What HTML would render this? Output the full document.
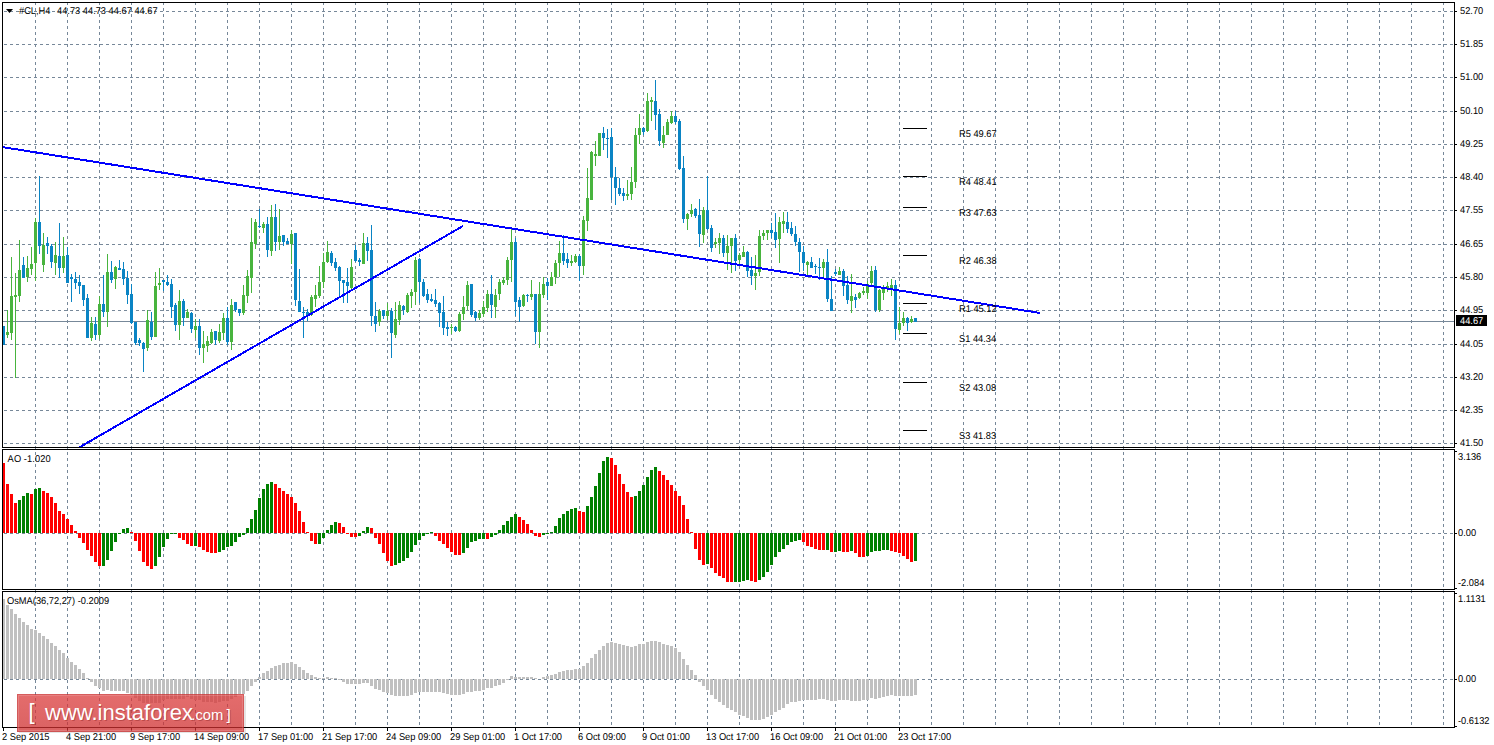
<!DOCTYPE html><html><head><meta charset="utf-8"><style>html,body{margin:0;padding:0;background:#fff;width:1494px;height:745px;overflow:hidden}svg{display:block}text{font-family:"Liberation Sans",sans-serif}</style></head><body>
<svg width="1494" height="745" viewBox="0 0 1494 745">
<rect width="1494" height="745" fill="#fff"/>
<g stroke="#778899" stroke-width="1" shape-rendering="crispEdges" stroke-dasharray="3 3">
<line x1="35.5" y1="2" x2="35.5" y2="727"/>
<line x1="67.5" y1="2" x2="67.5" y2="727"/>
<line x1="99.5" y1="2" x2="99.5" y2="727"/>
<line x1="131.5" y1="2" x2="131.5" y2="727"/>
<line x1="163.5" y1="2" x2="163.5" y2="727"/>
<line x1="195.5" y1="2" x2="195.5" y2="727"/>
<line x1="227.5" y1="2" x2="227.5" y2="727"/>
<line x1="259.5" y1="2" x2="259.5" y2="727"/>
<line x1="291.5" y1="2" x2="291.5" y2="727"/>
<line x1="323.5" y1="2" x2="323.5" y2="727"/>
<line x1="355.5" y1="2" x2="355.5" y2="727"/>
<line x1="387.5" y1="2" x2="387.5" y2="727"/>
<line x1="419.5" y1="2" x2="419.5" y2="727"/>
<line x1="451.5" y1="2" x2="451.5" y2="727"/>
<line x1="483.5" y1="2" x2="483.5" y2="727"/>
<line x1="515.5" y1="2" x2="515.5" y2="727"/>
<line x1="547.5" y1="2" x2="547.5" y2="727"/>
<line x1="579.5" y1="2" x2="579.5" y2="727"/>
<line x1="611.5" y1="2" x2="611.5" y2="727"/>
<line x1="643.5" y1="2" x2="643.5" y2="727"/>
<line x1="675.5" y1="2" x2="675.5" y2="727"/>
<line x1="707.5" y1="2" x2="707.5" y2="727"/>
<line x1="739.5" y1="2" x2="739.5" y2="727"/>
<line x1="771.5" y1="2" x2="771.5" y2="727"/>
<line x1="803.5" y1="2" x2="803.5" y2="727"/>
<line x1="835.5" y1="2" x2="835.5" y2="727"/>
<line x1="867.5" y1="2" x2="867.5" y2="727"/>
<line x1="899.5" y1="2" x2="899.5" y2="727"/>
<line x1="931.5" y1="2" x2="931.5" y2="727"/>
<line x1="963.5" y1="2" x2="963.5" y2="727"/>
<line x1="995.5" y1="2" x2="995.5" y2="727"/>
<line x1="1027.5" y1="2" x2="1027.5" y2="727"/>
<line x1="1059.5" y1="2" x2="1059.5" y2="727"/>
<line x1="1091.5" y1="2" x2="1091.5" y2="727"/>
<line x1="1123.5" y1="2" x2="1123.5" y2="727"/>
<line x1="1155.5" y1="2" x2="1155.5" y2="727"/>
<line x1="1187.5" y1="2" x2="1187.5" y2="727"/>
<line x1="1219.5" y1="2" x2="1219.5" y2="727"/>
<line x1="1251.5" y1="2" x2="1251.5" y2="727"/>
<line x1="1283.5" y1="2" x2="1283.5" y2="727"/>
<line x1="1315.5" y1="2" x2="1315.5" y2="727"/>
<line x1="1347.5" y1="2" x2="1347.5" y2="727"/>
<line x1="1379.5" y1="2" x2="1379.5" y2="727"/>
<line x1="1411.5" y1="2" x2="1411.5" y2="727"/>
<line x1="1443.5" y1="2" x2="1443.5" y2="727"/>
<line x1="4" y1="11.5" x2="1454" y2="11.5"/>
<line x1="4" y1="44.5" x2="1454" y2="44.5"/>
<line x1="4" y1="77.5" x2="1454" y2="77.5"/>
<line x1="4" y1="111.5" x2="1454" y2="111.5"/>
<line x1="4" y1="144.5" x2="1454" y2="144.5"/>
<line x1="4" y1="177.5" x2="1454" y2="177.5"/>
<line x1="4" y1="210.5" x2="1454" y2="210.5"/>
<line x1="4" y1="244.5" x2="1454" y2="244.5"/>
<line x1="4" y1="277.5" x2="1454" y2="277.5"/>
<line x1="4" y1="310.5" x2="1454" y2="310.5"/>
<line x1="4" y1="344.5" x2="1454" y2="344.5"/>
<line x1="4" y1="377.5" x2="1454" y2="377.5"/>
<line x1="4" y1="410.5" x2="1454" y2="410.5"/>
<line x1="4" y1="443.5" x2="1454" y2="443.5"/>
<line x1="4" y1="533.5" x2="1454" y2="533.5"/>
<line x1="4" y1="679.5" x2="1454" y2="679.5"/>
</g>
<rect x="3" y="321" width="1451" height="1" fill="#778899"/>
<g shape-rendering="crispEdges">
<rect x="3" y="326" width="1" height="19" fill="#0a84c4"/>
<rect x="3" y="326" width="2" height="19" fill="#0a84c4"/>
<rect x="7" y="310" width="1" height="28" fill="#48b43e"/>
<rect x="6" y="332" width="3" height="3" fill="#48b43e"/>
<rect x="11" y="257" width="1" height="83" fill="#48b43e"/>
<rect x="10" y="296" width="3" height="37" fill="#48b43e"/>
<rect x="15" y="273" width="1" height="105" fill="#48b43e"/>
<rect x="14" y="295" width="3" height="2" fill="#48b43e"/>
<rect x="19" y="240" width="1" height="62" fill="#48b43e"/>
<rect x="18" y="270" width="3" height="26" fill="#48b43e"/>
<rect x="23" y="257" width="1" height="21" fill="#0a84c4"/>
<rect x="22" y="265" width="3" height="13" fill="#0a84c4"/>
<rect x="27" y="256" width="1" height="26" fill="#48b43e"/>
<rect x="26" y="268" width="3" height="9" fill="#48b43e"/>
<rect x="31" y="247" width="1" height="28" fill="#48b43e"/>
<rect x="30" y="264" width="3" height="5" fill="#48b43e"/>
<rect x="35" y="218" width="1" height="63" fill="#48b43e"/>
<rect x="34" y="222" width="3" height="41" fill="#48b43e"/>
<rect x="39" y="176" width="1" height="78" fill="#0a84c4"/>
<rect x="38" y="222" width="3" height="24" fill="#0a84c4"/>
<rect x="43" y="233" width="1" height="39" fill="#48b43e"/>
<rect x="42" y="245" width="3" height="20" fill="#48b43e"/>
<rect x="47" y="237" width="1" height="17" fill="#0a84c4"/>
<rect x="46" y="243" width="3" height="3" fill="#0a84c4"/>
<rect x="51" y="244" width="1" height="24" fill="#0a84c4"/>
<rect x="50" y="246" width="3" height="16" fill="#0a84c4"/>
<rect x="55" y="242" width="1" height="33" fill="#48b43e"/>
<rect x="54" y="255" width="3" height="8" fill="#48b43e"/>
<rect x="59" y="223" width="1" height="55" fill="#0a84c4"/>
<rect x="58" y="256" width="3" height="12" fill="#0a84c4"/>
<rect x="63" y="237" width="1" height="36" fill="#48b43e"/>
<rect x="62" y="256" width="3" height="12" fill="#48b43e"/>
<rect x="67" y="247" width="1" height="36" fill="#0a84c4"/>
<rect x="66" y="255" width="3" height="28" fill="#0a84c4"/>
<rect x="71" y="274" width="1" height="28" fill="#0a84c4"/>
<rect x="70" y="277" width="3" height="2" fill="#0a84c4"/>
<rect x="75" y="272" width="1" height="17" fill="#0a84c4"/>
<rect x="74" y="279" width="3" height="4" fill="#0a84c4"/>
<rect x="79" y="275" width="1" height="19" fill="#0a84c4"/>
<rect x="78" y="282" width="3" height="4" fill="#0a84c4"/>
<rect x="83" y="285" width="1" height="21" fill="#0a84c4"/>
<rect x="82" y="285" width="3" height="15" fill="#0a84c4"/>
<rect x="87" y="294" width="1" height="44" fill="#0a84c4"/>
<rect x="86" y="298" width="3" height="40" fill="#0a84c4"/>
<rect x="91" y="317" width="1" height="24" fill="#48b43e"/>
<rect x="90" y="323" width="3" height="15" fill="#48b43e"/>
<rect x="95" y="317" width="1" height="23" fill="#0a84c4"/>
<rect x="94" y="324" width="3" height="11" fill="#0a84c4"/>
<rect x="99" y="296" width="1" height="43" fill="#48b43e"/>
<rect x="98" y="304" width="3" height="31" fill="#48b43e"/>
<rect x="103" y="275" width="1" height="42" fill="#0a84c4"/>
<rect x="102" y="304" width="3" height="8" fill="#0a84c4"/>
<rect x="107" y="254" width="1" height="73" fill="#48b43e"/>
<rect x="106" y="272" width="3" height="40" fill="#48b43e"/>
<rect x="111" y="261" width="1" height="22" fill="#0a84c4"/>
<rect x="110" y="272" width="3" height="8" fill="#0a84c4"/>
<rect x="115" y="266" width="1" height="23" fill="#48b43e"/>
<rect x="114" y="267" width="3" height="12" fill="#48b43e"/>
<rect x="119" y="260" width="1" height="10" fill="#0a84c4"/>
<rect x="118" y="268" width="3" height="2" fill="#0a84c4"/>
<rect x="123" y="262" width="1" height="23" fill="#0a84c4"/>
<rect x="122" y="269" width="3" height="10" fill="#0a84c4"/>
<rect x="127" y="271" width="1" height="33" fill="#0a84c4"/>
<rect x="126" y="278" width="3" height="17" fill="#0a84c4"/>
<rect x="131" y="284" width="1" height="40" fill="#0a84c4"/>
<rect x="130" y="294" width="3" height="29" fill="#0a84c4"/>
<rect x="135" y="322" width="1" height="23" fill="#0a84c4"/>
<rect x="134" y="322" width="3" height="21" fill="#0a84c4"/>
<rect x="139" y="338" width="1" height="8" fill="#0a84c4"/>
<rect x="138" y="340" width="3" height="3" fill="#0a84c4"/>
<rect x="143" y="342" width="1" height="30" fill="#0a84c4"/>
<rect x="142" y="343" width="3" height="6" fill="#0a84c4"/>
<rect x="147" y="310" width="1" height="41" fill="#48b43e"/>
<rect x="146" y="320" width="3" height="28" fill="#48b43e"/>
<rect x="151" y="312" width="1" height="28" fill="#0a84c4"/>
<rect x="150" y="322" width="3" height="15" fill="#0a84c4"/>
<rect x="155" y="272" width="1" height="65" fill="#48b43e"/>
<rect x="154" y="286" width="3" height="51" fill="#48b43e"/>
<rect x="159" y="268" width="1" height="22" fill="#48b43e"/>
<rect x="158" y="283" width="3" height="2" fill="#48b43e"/>
<rect x="163" y="280" width="1" height="11" fill="#0a84c4"/>
<rect x="162" y="280" width="3" height="2" fill="#0a84c4"/>
<rect x="167" y="275" width="1" height="11" fill="#0a84c4"/>
<rect x="166" y="282" width="3" height="3" fill="#0a84c4"/>
<rect x="171" y="279" width="1" height="39" fill="#0a84c4"/>
<rect x="170" y="284" width="3" height="23" fill="#0a84c4"/>
<rect x="175" y="303" width="1" height="28" fill="#0a84c4"/>
<rect x="174" y="305" width="3" height="20" fill="#0a84c4"/>
<rect x="179" y="290" width="1" height="50" fill="#48b43e"/>
<rect x="178" y="301" width="3" height="24" fill="#48b43e"/>
<rect x="183" y="299" width="1" height="27" fill="#0a84c4"/>
<rect x="182" y="301" width="3" height="17" fill="#0a84c4"/>
<rect x="187" y="309" width="1" height="9" fill="#48b43e"/>
<rect x="186" y="312" width="3" height="6" fill="#48b43e"/>
<rect x="191" y="312" width="1" height="21" fill="#0a84c4"/>
<rect x="190" y="313" width="3" height="16" fill="#0a84c4"/>
<rect x="195" y="319" width="1" height="19" fill="#48b43e"/>
<rect x="194" y="326" width="3" height="4" fill="#48b43e"/>
<rect x="199" y="319" width="1" height="36" fill="#0a84c4"/>
<rect x="198" y="326" width="3" height="22" fill="#0a84c4"/>
<rect x="203" y="331" width="1" height="32" fill="#48b43e"/>
<rect x="202" y="344" width="3" height="4" fill="#48b43e"/>
<rect x="207" y="336" width="1" height="16" fill="#48b43e"/>
<rect x="206" y="341" width="3" height="5" fill="#48b43e"/>
<rect x="211" y="329" width="1" height="15" fill="#48b43e"/>
<rect x="210" y="332" width="3" height="11" fill="#48b43e"/>
<rect x="215" y="331" width="1" height="14" fill="#0a84c4"/>
<rect x="214" y="331" width="3" height="9" fill="#0a84c4"/>
<rect x="219" y="324" width="1" height="19" fill="#48b43e"/>
<rect x="218" y="332" width="3" height="9" fill="#48b43e"/>
<rect x="223" y="313" width="1" height="27" fill="#48b43e"/>
<rect x="222" y="318" width="3" height="15" fill="#48b43e"/>
<rect x="227" y="307" width="1" height="38" fill="#0a84c4"/>
<rect x="226" y="318" width="3" height="24" fill="#0a84c4"/>
<rect x="231" y="299" width="1" height="51" fill="#48b43e"/>
<rect x="230" y="305" width="3" height="37" fill="#48b43e"/>
<rect x="235" y="302" width="1" height="10" fill="#0a84c4"/>
<rect x="234" y="302" width="3" height="8" fill="#0a84c4"/>
<rect x="239" y="309" width="1" height="7" fill="#0a84c4"/>
<rect x="238" y="309" width="3" height="4" fill="#0a84c4"/>
<rect x="243" y="285" width="1" height="30" fill="#48b43e"/>
<rect x="242" y="295" width="3" height="18" fill="#48b43e"/>
<rect x="247" y="270" width="1" height="33" fill="#48b43e"/>
<rect x="246" y="276" width="3" height="20" fill="#48b43e"/>
<rect x="251" y="218" width="1" height="75" fill="#48b43e"/>
<rect x="250" y="242" width="3" height="36" fill="#48b43e"/>
<rect x="255" y="219" width="1" height="30" fill="#48b43e"/>
<rect x="254" y="222" width="3" height="22" fill="#48b43e"/>
<rect x="259" y="209" width="1" height="19" fill="#0a84c4"/>
<rect x="258" y="226" width="3" height="1" fill="#0a84c4"/>
<rect x="263" y="222" width="1" height="11" fill="#48b43e"/>
<rect x="262" y="224" width="3" height="4" fill="#48b43e"/>
<rect x="267" y="217" width="1" height="40" fill="#0a84c4"/>
<rect x="266" y="224" width="3" height="26" fill="#0a84c4"/>
<rect x="271" y="205" width="1" height="51" fill="#48b43e"/>
<rect x="270" y="217" width="3" height="34" fill="#48b43e"/>
<rect x="275" y="204" width="1" height="47" fill="#0a84c4"/>
<rect x="274" y="217" width="3" height="25" fill="#0a84c4"/>
<rect x="279" y="209" width="1" height="41" fill="#48b43e"/>
<rect x="278" y="236" width="3" height="6" fill="#48b43e"/>
<rect x="283" y="235" width="1" height="11" fill="#0a84c4"/>
<rect x="282" y="235" width="3" height="7" fill="#0a84c4"/>
<rect x="287" y="238" width="1" height="6" fill="#0a84c4"/>
<rect x="286" y="241" width="3" height="3" fill="#0a84c4"/>
<rect x="291" y="230" width="1" height="34" fill="#48b43e"/>
<rect x="290" y="234" width="3" height="10" fill="#48b43e"/>
<rect x="295" y="233" width="1" height="73" fill="#0a84c4"/>
<rect x="294" y="233" width="3" height="67" fill="#0a84c4"/>
<rect x="299" y="269" width="1" height="43" fill="#0a84c4"/>
<rect x="298" y="301" width="3" height="11" fill="#0a84c4"/>
<rect x="303" y="307" width="1" height="31" fill="#0a84c4"/>
<rect x="302" y="312" width="3" height="1" fill="#0a84c4"/>
<rect x="307" y="309" width="1" height="12" fill="#0a84c4"/>
<rect x="306" y="312" width="3" height="3" fill="#0a84c4"/>
<rect x="311" y="295" width="1" height="21" fill="#48b43e"/>
<rect x="310" y="297" width="3" height="18" fill="#48b43e"/>
<rect x="315" y="285" width="1" height="22" fill="#48b43e"/>
<rect x="314" y="295" width="3" height="4" fill="#48b43e"/>
<rect x="319" y="266" width="1" height="32" fill="#48b43e"/>
<rect x="318" y="282" width="3" height="14" fill="#48b43e"/>
<rect x="323" y="253" width="1" height="35" fill="#48b43e"/>
<rect x="322" y="262" width="3" height="20" fill="#48b43e"/>
<rect x="327" y="241" width="1" height="22" fill="#48b43e"/>
<rect x="326" y="252" width="3" height="10" fill="#48b43e"/>
<rect x="331" y="251" width="1" height="15" fill="#0a84c4"/>
<rect x="330" y="253" width="3" height="10" fill="#0a84c4"/>
<rect x="335" y="258" width="1" height="13" fill="#0a84c4"/>
<rect x="334" y="262" width="3" height="6" fill="#0a84c4"/>
<rect x="339" y="266" width="1" height="30" fill="#0a84c4"/>
<rect x="338" y="267" width="3" height="14" fill="#0a84c4"/>
<rect x="343" y="280" width="1" height="23" fill="#0a84c4"/>
<rect x="342" y="280" width="3" height="3" fill="#0a84c4"/>
<rect x="347" y="268" width="1" height="35" fill="#0a84c4"/>
<rect x="346" y="282" width="3" height="4" fill="#0a84c4"/>
<rect x="351" y="259" width="1" height="30" fill="#48b43e"/>
<rect x="350" y="267" width="3" height="21" fill="#48b43e"/>
<rect x="355" y="245" width="1" height="17" fill="#0a84c4"/>
<rect x="354" y="250" width="3" height="11" fill="#0a84c4"/>
<rect x="359" y="258" width="1" height="8" fill="#0a84c4"/>
<rect x="358" y="260" width="3" height="2" fill="#0a84c4"/>
<rect x="363" y="233" width="1" height="31" fill="#48b43e"/>
<rect x="362" y="243" width="3" height="21" fill="#48b43e"/>
<rect x="367" y="237" width="1" height="24" fill="#0a84c4"/>
<rect x="366" y="243" width="3" height="8" fill="#0a84c4"/>
<rect x="371" y="225" width="1" height="101" fill="#0a84c4"/>
<rect x="370" y="250" width="3" height="66" fill="#0a84c4"/>
<rect x="375" y="302" width="1" height="30" fill="#0a84c4"/>
<rect x="374" y="316" width="3" height="8" fill="#0a84c4"/>
<rect x="379" y="309" width="1" height="17" fill="#48b43e"/>
<rect x="378" y="311" width="3" height="11" fill="#48b43e"/>
<rect x="383" y="310" width="1" height="9" fill="#0a84c4"/>
<rect x="382" y="310" width="3" height="6" fill="#0a84c4"/>
<rect x="387" y="303" width="1" height="17" fill="#48b43e"/>
<rect x="386" y="311" width="3" height="5" fill="#48b43e"/>
<rect x="391" y="308" width="1" height="50" fill="#0a84c4"/>
<rect x="390" y="311" width="3" height="22" fill="#0a84c4"/>
<rect x="395" y="302" width="1" height="36" fill="#48b43e"/>
<rect x="394" y="319" width="3" height="16" fill="#48b43e"/>
<rect x="399" y="301" width="1" height="24" fill="#48b43e"/>
<rect x="398" y="305" width="3" height="15" fill="#48b43e"/>
<rect x="403" y="305" width="1" height="10" fill="#0a84c4"/>
<rect x="402" y="306" width="3" height="4" fill="#0a84c4"/>
<rect x="407" y="293" width="1" height="20" fill="#48b43e"/>
<rect x="406" y="295" width="3" height="17" fill="#48b43e"/>
<rect x="411" y="289" width="1" height="19" fill="#48b43e"/>
<rect x="410" y="292" width="3" height="4" fill="#48b43e"/>
<rect x="415" y="257" width="1" height="48" fill="#48b43e"/>
<rect x="414" y="260" width="3" height="32" fill="#48b43e"/>
<rect x="419" y="258" width="1" height="45" fill="#0a84c4"/>
<rect x="418" y="259" width="3" height="23" fill="#0a84c4"/>
<rect x="423" y="279" width="1" height="18" fill="#0a84c4"/>
<rect x="422" y="282" width="3" height="14" fill="#0a84c4"/>
<rect x="427" y="289" width="1" height="14" fill="#0a84c4"/>
<rect x="426" y="294" width="3" height="6" fill="#0a84c4"/>
<rect x="431" y="294" width="1" height="8" fill="#0a84c4"/>
<rect x="430" y="299" width="3" height="2" fill="#0a84c4"/>
<rect x="435" y="289" width="1" height="18" fill="#0a84c4"/>
<rect x="434" y="300" width="3" height="4" fill="#0a84c4"/>
<rect x="439" y="302" width="1" height="25" fill="#0a84c4"/>
<rect x="438" y="303" width="3" height="10" fill="#0a84c4"/>
<rect x="443" y="296" width="1" height="39" fill="#0a84c4"/>
<rect x="442" y="312" width="3" height="16" fill="#0a84c4"/>
<rect x="447" y="322" width="1" height="14" fill="#0a84c4"/>
<rect x="446" y="327" width="3" height="2" fill="#0a84c4"/>
<rect x="451" y="324" width="1" height="10" fill="#48b43e"/>
<rect x="450" y="327" width="3" height="1" fill="#48b43e"/>
<rect x="455" y="326" width="1" height="6" fill="#0a84c4"/>
<rect x="454" y="327" width="3" height="4" fill="#0a84c4"/>
<rect x="459" y="312" width="1" height="20" fill="#48b43e"/>
<rect x="458" y="314" width="3" height="17" fill="#48b43e"/>
<rect x="463" y="296" width="1" height="24" fill="#48b43e"/>
<rect x="462" y="307" width="3" height="7" fill="#48b43e"/>
<rect x="467" y="281" width="1" height="29" fill="#48b43e"/>
<rect x="466" y="285" width="3" height="21" fill="#48b43e"/>
<rect x="471" y="284" width="1" height="33" fill="#0a84c4"/>
<rect x="470" y="284" width="3" height="31" fill="#0a84c4"/>
<rect x="475" y="311" width="1" height="10" fill="#0a84c4"/>
<rect x="474" y="312" width="3" height="6" fill="#0a84c4"/>
<rect x="479" y="310" width="1" height="10" fill="#48b43e"/>
<rect x="478" y="313" width="3" height="5" fill="#48b43e"/>
<rect x="483" y="301" width="1" height="16" fill="#48b43e"/>
<rect x="482" y="307" width="3" height="7" fill="#48b43e"/>
<rect x="487" y="290" width="1" height="22" fill="#48b43e"/>
<rect x="486" y="294" width="3" height="14" fill="#48b43e"/>
<rect x="491" y="275" width="1" height="43" fill="#0a84c4"/>
<rect x="490" y="294" width="3" height="11" fill="#0a84c4"/>
<rect x="495" y="289" width="1" height="29" fill="#48b43e"/>
<rect x="494" y="295" width="3" height="12" fill="#48b43e"/>
<rect x="499" y="279" width="1" height="21" fill="#48b43e"/>
<rect x="498" y="282" width="3" height="12" fill="#48b43e"/>
<rect x="503" y="277" width="1" height="8" fill="#48b43e"/>
<rect x="502" y="280" width="3" height="3" fill="#48b43e"/>
<rect x="507" y="257" width="1" height="28" fill="#48b43e"/>
<rect x="506" y="260" width="3" height="20" fill="#48b43e"/>
<rect x="511" y="229" width="1" height="53" fill="#48b43e"/>
<rect x="510" y="242" width="3" height="18" fill="#48b43e"/>
<rect x="515" y="238" width="1" height="78" fill="#0a84c4"/>
<rect x="514" y="242" width="3" height="60" fill="#0a84c4"/>
<rect x="519" y="297" width="1" height="25" fill="#0a84c4"/>
<rect x="518" y="300" width="3" height="7" fill="#0a84c4"/>
<rect x="523" y="294" width="1" height="13" fill="#48b43e"/>
<rect x="522" y="295" width="3" height="11" fill="#48b43e"/>
<rect x="527" y="294" width="1" height="8" fill="#0a84c4"/>
<rect x="526" y="295" width="3" height="1" fill="#0a84c4"/>
<rect x="531" y="280" width="1" height="20" fill="#48b43e"/>
<rect x="530" y="294" width="3" height="3" fill="#48b43e"/>
<rect x="535" y="294" width="1" height="50" fill="#0a84c4"/>
<rect x="534" y="294" width="3" height="38" fill="#0a84c4"/>
<rect x="539" y="282" width="1" height="66" fill="#48b43e"/>
<rect x="538" y="294" width="3" height="38" fill="#48b43e"/>
<rect x="543" y="277" width="1" height="21" fill="#48b43e"/>
<rect x="542" y="284" width="3" height="11" fill="#48b43e"/>
<rect x="547" y="278" width="1" height="22" fill="#0a84c4"/>
<rect x="546" y="282" width="3" height="4" fill="#0a84c4"/>
<rect x="551" y="272" width="1" height="14" fill="#48b43e"/>
<rect x="550" y="277" width="3" height="9" fill="#48b43e"/>
<rect x="555" y="260" width="1" height="24" fill="#48b43e"/>
<rect x="554" y="263" width="3" height="14" fill="#48b43e"/>
<rect x="559" y="241" width="1" height="36" fill="#48b43e"/>
<rect x="558" y="253" width="3" height="10" fill="#48b43e"/>
<rect x="563" y="235" width="1" height="30" fill="#0a84c4"/>
<rect x="562" y="253" width="3" height="8" fill="#0a84c4"/>
<rect x="567" y="253" width="1" height="15" fill="#0a84c4"/>
<rect x="566" y="259" width="3" height="4" fill="#0a84c4"/>
<rect x="571" y="255" width="1" height="11" fill="#48b43e"/>
<rect x="570" y="261" width="3" height="2" fill="#48b43e"/>
<rect x="575" y="254" width="1" height="9" fill="#48b43e"/>
<rect x="574" y="256" width="3" height="6" fill="#48b43e"/>
<rect x="579" y="254" width="1" height="27" fill="#0a84c4"/>
<rect x="578" y="256" width="3" height="10" fill="#0a84c4"/>
<rect x="583" y="216" width="1" height="59" fill="#48b43e"/>
<rect x="582" y="220" width="3" height="46" fill="#48b43e"/>
<rect x="587" y="168" width="1" height="63" fill="#48b43e"/>
<rect x="586" y="198" width="3" height="23" fill="#48b43e"/>
<rect x="591" y="151" width="1" height="49" fill="#48b43e"/>
<rect x="590" y="152" width="3" height="48" fill="#48b43e"/>
<rect x="595" y="141" width="1" height="25" fill="#48b43e"/>
<rect x="594" y="154" width="3" height="2" fill="#48b43e"/>
<rect x="599" y="133" width="1" height="23" fill="#48b43e"/>
<rect x="598" y="133" width="3" height="23" fill="#48b43e"/>
<rect x="603" y="127" width="1" height="23" fill="#0a84c4"/>
<rect x="602" y="133" width="3" height="5" fill="#0a84c4"/>
<rect x="607" y="129" width="1" height="29" fill="#0a84c4"/>
<rect x="606" y="138" width="3" height="1" fill="#0a84c4"/>
<rect x="611" y="128" width="1" height="72" fill="#0a84c4"/>
<rect x="610" y="137" width="3" height="40" fill="#0a84c4"/>
<rect x="615" y="167" width="1" height="38" fill="#0a84c4"/>
<rect x="614" y="177" width="3" height="11" fill="#0a84c4"/>
<rect x="619" y="178" width="1" height="18" fill="#0a84c4"/>
<rect x="618" y="188" width="3" height="6" fill="#0a84c4"/>
<rect x="623" y="188" width="1" height="13" fill="#0a84c4"/>
<rect x="622" y="193" width="3" height="3" fill="#0a84c4"/>
<rect x="627" y="180" width="1" height="20" fill="#48b43e"/>
<rect x="626" y="194" width="3" height="2" fill="#48b43e"/>
<rect x="631" y="167" width="1" height="33" fill="#48b43e"/>
<rect x="630" y="182" width="3" height="12" fill="#48b43e"/>
<rect x="635" y="128" width="1" height="60" fill="#48b43e"/>
<rect x="634" y="135" width="3" height="47" fill="#48b43e"/>
<rect x="639" y="114" width="1" height="30" fill="#48b43e"/>
<rect x="638" y="128" width="3" height="7" fill="#48b43e"/>
<rect x="643" y="127" width="1" height="8" fill="#0a84c4"/>
<rect x="642" y="128" width="3" height="4" fill="#0a84c4"/>
<rect x="647" y="93" width="1" height="39" fill="#48b43e"/>
<rect x="646" y="101" width="3" height="30" fill="#48b43e"/>
<rect x="651" y="97" width="1" height="24" fill="#48b43e"/>
<rect x="650" y="100" width="3" height="2" fill="#48b43e"/>
<rect x="655" y="80" width="1" height="50" fill="#0a84c4"/>
<rect x="654" y="101" width="3" height="14" fill="#0a84c4"/>
<rect x="659" y="109" width="1" height="37" fill="#0a84c4"/>
<rect x="658" y="114" width="3" height="27" fill="#0a84c4"/>
<rect x="663" y="126" width="1" height="22" fill="#48b43e"/>
<rect x="662" y="135" width="3" height="8" fill="#48b43e"/>
<rect x="667" y="119" width="1" height="16" fill="#48b43e"/>
<rect x="666" y="122" width="3" height="13" fill="#48b43e"/>
<rect x="671" y="111" width="1" height="13" fill="#48b43e"/>
<rect x="670" y="116" width="3" height="7" fill="#48b43e"/>
<rect x="675" y="111" width="1" height="13" fill="#0a84c4"/>
<rect x="674" y="116" width="3" height="6" fill="#0a84c4"/>
<rect x="679" y="119" width="1" height="51" fill="#0a84c4"/>
<rect x="678" y="121" width="3" height="48" fill="#0a84c4"/>
<rect x="683" y="156" width="1" height="67" fill="#0a84c4"/>
<rect x="682" y="168" width="3" height="51" fill="#0a84c4"/>
<rect x="687" y="213" width="1" height="17" fill="#48b43e"/>
<rect x="686" y="214" width="3" height="5" fill="#48b43e"/>
<rect x="691" y="204" width="1" height="13" fill="#48b43e"/>
<rect x="690" y="210" width="3" height="4" fill="#48b43e"/>
<rect x="695" y="208" width="1" height="10" fill="#0a84c4"/>
<rect x="694" y="209" width="3" height="7" fill="#0a84c4"/>
<rect x="699" y="199" width="1" height="48" fill="#0a84c4"/>
<rect x="698" y="215" width="3" height="19" fill="#0a84c4"/>
<rect x="703" y="207" width="1" height="36" fill="#48b43e"/>
<rect x="702" y="210" width="3" height="25" fill="#48b43e"/>
<rect x="707" y="176" width="1" height="54" fill="#0a84c4"/>
<rect x="706" y="210" width="3" height="19" fill="#0a84c4"/>
<rect x="711" y="225" width="1" height="27" fill="#0a84c4"/>
<rect x="710" y="228" width="3" height="20" fill="#0a84c4"/>
<rect x="715" y="238" width="1" height="10" fill="#48b43e"/>
<rect x="714" y="242" width="3" height="2" fill="#48b43e"/>
<rect x="719" y="233" width="1" height="21" fill="#48b43e"/>
<rect x="718" y="238" width="3" height="5" fill="#48b43e"/>
<rect x="723" y="235" width="1" height="22" fill="#0a84c4"/>
<rect x="722" y="238" width="3" height="15" fill="#0a84c4"/>
<rect x="727" y="235" width="1" height="35" fill="#48b43e"/>
<rect x="726" y="246" width="3" height="7" fill="#48b43e"/>
<rect x="731" y="238" width="1" height="35" fill="#48b43e"/>
<rect x="730" y="238" width="3" height="8" fill="#48b43e"/>
<rect x="735" y="234" width="1" height="37" fill="#0a84c4"/>
<rect x="734" y="238" width="3" height="23" fill="#0a84c4"/>
<rect x="739" y="253" width="1" height="11" fill="#48b43e"/>
<rect x="738" y="255" width="3" height="5" fill="#48b43e"/>
<rect x="743" y="246" width="1" height="11" fill="#48b43e"/>
<rect x="742" y="252" width="3" height="5" fill="#48b43e"/>
<rect x="747" y="251" width="1" height="26" fill="#0a84c4"/>
<rect x="746" y="252" width="3" height="19" fill="#0a84c4"/>
<rect x="751" y="257" width="1" height="28" fill="#0a84c4"/>
<rect x="750" y="270" width="3" height="6" fill="#0a84c4"/>
<rect x="755" y="255" width="1" height="35" fill="#48b43e"/>
<rect x="754" y="273" width="3" height="3" fill="#48b43e"/>
<rect x="759" y="230" width="1" height="46" fill="#48b43e"/>
<rect x="758" y="236" width="3" height="36" fill="#48b43e"/>
<rect x="763" y="230" width="1" height="10" fill="#48b43e"/>
<rect x="762" y="233" width="3" height="3" fill="#48b43e"/>
<rect x="767" y="230" width="1" height="10" fill="#48b43e"/>
<rect x="766" y="230" width="3" height="3" fill="#48b43e"/>
<rect x="771" y="223" width="1" height="15" fill="#0a84c4"/>
<rect x="770" y="230" width="3" height="3" fill="#0a84c4"/>
<rect x="775" y="213" width="1" height="35" fill="#0a84c4"/>
<rect x="774" y="232" width="3" height="8" fill="#0a84c4"/>
<rect x="779" y="217" width="1" height="46" fill="#48b43e"/>
<rect x="778" y="222" width="3" height="17" fill="#48b43e"/>
<rect x="783" y="212" width="1" height="21" fill="#48b43e"/>
<rect x="782" y="221" width="3" height="3" fill="#48b43e"/>
<rect x="787" y="212" width="1" height="21" fill="#0a84c4"/>
<rect x="786" y="222" width="3" height="7" fill="#0a84c4"/>
<rect x="791" y="222" width="1" height="14" fill="#0a84c4"/>
<rect x="790" y="228" width="3" height="6" fill="#0a84c4"/>
<rect x="795" y="226" width="1" height="20" fill="#0a84c4"/>
<rect x="794" y="234" width="3" height="8" fill="#0a84c4"/>
<rect x="799" y="238" width="1" height="34" fill="#0a84c4"/>
<rect x="798" y="242" width="3" height="10" fill="#0a84c4"/>
<rect x="803" y="246" width="1" height="25" fill="#0a84c4"/>
<rect x="802" y="252" width="3" height="11" fill="#0a84c4"/>
<rect x="807" y="261" width="1" height="14" fill="#48b43e"/>
<rect x="806" y="262" width="3" height="3" fill="#48b43e"/>
<rect x="811" y="257" width="1" height="11" fill="#0a84c4"/>
<rect x="810" y="262" width="3" height="6" fill="#0a84c4"/>
<rect x="815" y="264" width="1" height="10" fill="#0a84c4"/>
<rect x="814" y="266" width="3" height="1" fill="#0a84c4"/>
<rect x="819" y="258" width="1" height="22" fill="#0a84c4"/>
<rect x="818" y="267" width="3" height="1" fill="#0a84c4"/>
<rect x="823" y="259" width="1" height="18" fill="#48b43e"/>
<rect x="822" y="262" width="3" height="6" fill="#48b43e"/>
<rect x="827" y="249" width="1" height="53" fill="#0a84c4"/>
<rect x="826" y="262" width="3" height="37" fill="#0a84c4"/>
<rect x="831" y="276" width="1" height="35" fill="#0a84c4"/>
<rect x="830" y="299" width="3" height="12" fill="#0a84c4"/>
<rect x="835" y="269" width="1" height="7" fill="#0a84c4"/>
<rect x="834" y="272" width="3" height="2" fill="#0a84c4"/>
<rect x="839" y="267" width="1" height="8" fill="#48b43e"/>
<rect x="838" y="271" width="3" height="4" fill="#48b43e"/>
<rect x="843" y="269" width="1" height="27" fill="#0a84c4"/>
<rect x="842" y="271" width="3" height="15" fill="#0a84c4"/>
<rect x="847" y="276" width="1" height="28" fill="#0a84c4"/>
<rect x="846" y="285" width="3" height="15" fill="#0a84c4"/>
<rect x="851" y="274" width="1" height="39" fill="#48b43e"/>
<rect x="850" y="296" width="3" height="5" fill="#48b43e"/>
<rect x="855" y="294" width="1" height="14" fill="#0a84c4"/>
<rect x="854" y="297" width="3" height="3" fill="#0a84c4"/>
<rect x="859" y="292" width="1" height="7" fill="#48b43e"/>
<rect x="858" y="293" width="3" height="5" fill="#48b43e"/>
<rect x="863" y="287" width="1" height="8" fill="#48b43e"/>
<rect x="862" y="291" width="3" height="2" fill="#48b43e"/>
<rect x="867" y="281" width="1" height="18" fill="#48b43e"/>
<rect x="866" y="284" width="3" height="9" fill="#48b43e"/>
<rect x="871" y="266" width="1" height="21" fill="#48b43e"/>
<rect x="870" y="271" width="3" height="12" fill="#48b43e"/>
<rect x="875" y="266" width="1" height="46" fill="#0a84c4"/>
<rect x="874" y="270" width="3" height="40" fill="#0a84c4"/>
<rect x="879" y="289" width="1" height="23" fill="#48b43e"/>
<rect x="878" y="290" width="3" height="20" fill="#48b43e"/>
<rect x="883" y="285" width="1" height="15" fill="#48b43e"/>
<rect x="882" y="289" width="3" height="4" fill="#48b43e"/>
<rect x="887" y="282" width="1" height="10" fill="#48b43e"/>
<rect x="886" y="286" width="3" height="3" fill="#48b43e"/>
<rect x="891" y="279" width="1" height="17" fill="#48b43e"/>
<rect x="890" y="285" width="3" height="3" fill="#48b43e"/>
<rect x="895" y="280" width="1" height="60" fill="#0a84c4"/>
<rect x="894" y="285" width="3" height="44" fill="#0a84c4"/>
<rect x="899" y="307" width="1" height="27" fill="#48b43e"/>
<rect x="898" y="323" width="3" height="7" fill="#48b43e"/>
<rect x="903" y="312" width="1" height="14" fill="#48b43e"/>
<rect x="902" y="318" width="3" height="5" fill="#48b43e"/>
<rect x="907" y="317" width="1" height="14" fill="#0a84c4"/>
<rect x="906" y="318" width="3" height="5" fill="#0a84c4"/>
<rect x="911" y="316" width="1" height="7" fill="#48b43e"/>
<rect x="910" y="319" width="3" height="3" fill="#48b43e"/>
<rect x="915" y="318" width="1" height="4" fill="#0a84c4"/>
<rect x="914" y="318" width="3" height="4" fill="#0a84c4"/>
</g>
<g shape-rendering="crispEdges">
<rect x="3" y="463" width="2" height="70" fill="#ff0000"/>
<rect x="6" y="484" width="3" height="49" fill="#ff0000"/>
<rect x="10" y="494" width="3" height="39" fill="#ff0000"/>
<rect x="14" y="503" width="3" height="30" fill="#ff0000"/>
<rect x="18" y="500" width="3" height="33" fill="#008000"/>
<rect x="22" y="496" width="3" height="37" fill="#008000"/>
<rect x="26" y="493" width="3" height="40" fill="#008000"/>
<rect x="30" y="494" width="3" height="39" fill="#ff0000"/>
<rect x="34" y="489" width="3" height="44" fill="#008000"/>
<rect x="38" y="488" width="3" height="45" fill="#008000"/>
<rect x="42" y="491" width="3" height="42" fill="#ff0000"/>
<rect x="46" y="493" width="3" height="40" fill="#ff0000"/>
<rect x="50" y="497" width="3" height="36" fill="#ff0000"/>
<rect x="54" y="503" width="3" height="30" fill="#ff0000"/>
<rect x="58" y="511" width="3" height="22" fill="#ff0000"/>
<rect x="62" y="514" width="3" height="19" fill="#ff0000"/>
<rect x="66" y="519" width="3" height="14" fill="#ff0000"/>
<rect x="70" y="525" width="3" height="8" fill="#ff0000"/>
<rect x="74" y="531" width="3" height="2" fill="#ff0000"/>
<rect x="78" y="533" width="3" height="5" fill="#ff0000"/>
<rect x="82" y="533" width="3" height="10" fill="#ff0000"/>
<rect x="86" y="533" width="3" height="17" fill="#ff0000"/>
<rect x="90" y="533" width="3" height="23" fill="#ff0000"/>
<rect x="94" y="533" width="3" height="29" fill="#ff0000"/>
<rect x="98" y="533" width="3" height="33" fill="#ff0000"/>
<rect x="102" y="533" width="3" height="33" fill="#008000"/>
<rect x="106" y="533" width="3" height="27" fill="#008000"/>
<rect x="110" y="533" width="3" height="18" fill="#008000"/>
<rect x="114" y="533" width="3" height="9" fill="#008000"/>
<rect x="118" y="533" width="3" height="1" fill="#008000"/>
<rect x="122" y="529" width="3" height="4" fill="#008000"/>
<rect x="126" y="528" width="3" height="5" fill="#008000"/>
<rect x="130" y="532" width="3" height="1" fill="#ff0000"/>
<rect x="134" y="533" width="3" height="8" fill="#ff0000"/>
<rect x="138" y="533" width="3" height="18" fill="#ff0000"/>
<rect x="142" y="533" width="3" height="29" fill="#ff0000"/>
<rect x="146" y="533" width="3" height="33" fill="#ff0000"/>
<rect x="150" y="533" width="3" height="36" fill="#ff0000"/>
<rect x="154" y="533" width="3" height="33" fill="#008000"/>
<rect x="158" y="533" width="3" height="24" fill="#008000"/>
<rect x="162" y="533" width="3" height="14" fill="#008000"/>
<rect x="166" y="533" width="3" height="6" fill="#008000"/>
<rect x="170" y="533" width="3" height="1" fill="#008000"/>
<rect x="174" y="533" width="3" height="1" fill="#008000"/>
<rect x="178" y="533" width="3" height="5" fill="#ff0000"/>
<rect x="182" y="533" width="3" height="7" fill="#ff0000"/>
<rect x="186" y="533" width="3" height="11" fill="#ff0000"/>
<rect x="190" y="533" width="3" height="13" fill="#ff0000"/>
<rect x="194" y="533" width="3" height="13" fill="#008000"/>
<rect x="198" y="533" width="3" height="14" fill="#ff0000"/>
<rect x="202" y="533" width="3" height="17" fill="#ff0000"/>
<rect x="206" y="533" width="3" height="19" fill="#ff0000"/>
<rect x="210" y="533" width="3" height="20" fill="#ff0000"/>
<rect x="214" y="533" width="3" height="20" fill="#ff0000"/>
<rect x="218" y="533" width="3" height="19" fill="#008000"/>
<rect x="222" y="533" width="3" height="17" fill="#008000"/>
<rect x="226" y="533" width="3" height="14" fill="#008000"/>
<rect x="230" y="533" width="3" height="13" fill="#008000"/>
<rect x="234" y="533" width="3" height="9" fill="#008000"/>
<rect x="238" y="533" width="3" height="4" fill="#008000"/>
<rect x="242" y="533" width="3" height="2" fill="#008000"/>
<rect x="246" y="528" width="3" height="5" fill="#008000"/>
<rect x="250" y="519" width="3" height="14" fill="#008000"/>
<rect x="254" y="510" width="3" height="23" fill="#008000"/>
<rect x="258" y="498" width="3" height="35" fill="#008000"/>
<rect x="262" y="489" width="3" height="44" fill="#008000"/>
<rect x="266" y="484" width="3" height="49" fill="#008000"/>
<rect x="270" y="482" width="3" height="51" fill="#008000"/>
<rect x="274" y="484" width="3" height="49" fill="#ff0000"/>
<rect x="278" y="488" width="3" height="45" fill="#ff0000"/>
<rect x="282" y="491" width="3" height="42" fill="#ff0000"/>
<rect x="286" y="494" width="3" height="39" fill="#ff0000"/>
<rect x="290" y="497" width="3" height="36" fill="#ff0000"/>
<rect x="294" y="503" width="3" height="30" fill="#ff0000"/>
<rect x="298" y="511" width="3" height="22" fill="#ff0000"/>
<rect x="302" y="522" width="3" height="11" fill="#ff0000"/>
<rect x="306" y="532" width="3" height="1" fill="#ff0000"/>
<rect x="310" y="533" width="3" height="8" fill="#ff0000"/>
<rect x="314" y="533" width="3" height="11" fill="#ff0000"/>
<rect x="318" y="533" width="3" height="11" fill="#008000"/>
<rect x="322" y="533" width="3" height="5" fill="#008000"/>
<rect x="326" y="530" width="3" height="3" fill="#008000"/>
<rect x="330" y="525" width="3" height="8" fill="#008000"/>
<rect x="334" y="522" width="3" height="11" fill="#008000"/>
<rect x="338" y="523" width="3" height="10" fill="#ff0000"/>
<rect x="342" y="527" width="3" height="6" fill="#ff0000"/>
<rect x="346" y="533" width="3" height="1" fill="#ff0000"/>
<rect x="350" y="533" width="3" height="4" fill="#ff0000"/>
<rect x="354" y="533" width="3" height="4" fill="#ff0000"/>
<rect x="358" y="533" width="3" height="3" fill="#008000"/>
<rect x="362" y="531" width="3" height="2" fill="#008000"/>
<rect x="366" y="527" width="3" height="6" fill="#008000"/>
<rect x="370" y="528" width="3" height="5" fill="#ff0000"/>
<rect x="374" y="533" width="3" height="5" fill="#ff0000"/>
<rect x="378" y="533" width="3" height="11" fill="#ff0000"/>
<rect x="382" y="533" width="3" height="20" fill="#ff0000"/>
<rect x="386" y="533" width="3" height="28" fill="#ff0000"/>
<rect x="390" y="533" width="3" height="33" fill="#ff0000"/>
<rect x="394" y="533" width="3" height="32" fill="#008000"/>
<rect x="398" y="533" width="3" height="30" fill="#008000"/>
<rect x="402" y="533" width="3" height="28" fill="#008000"/>
<rect x="406" y="533" width="3" height="25" fill="#008000"/>
<rect x="410" y="533" width="3" height="19" fill="#008000"/>
<rect x="414" y="533" width="3" height="12" fill="#008000"/>
<rect x="418" y="533" width="3" height="7" fill="#008000"/>
<rect x="422" y="533" width="3" height="3" fill="#008000"/>
<rect x="426" y="533" width="3" height="1" fill="#008000"/>
<rect x="430" y="532" width="3" height="1" fill="#008000"/>
<rect x="434" y="533" width="3" height="3" fill="#ff0000"/>
<rect x="438" y="533" width="3" height="8" fill="#ff0000"/>
<rect x="442" y="533" width="3" height="11" fill="#ff0000"/>
<rect x="446" y="533" width="3" height="15" fill="#ff0000"/>
<rect x="450" y="533" width="3" height="19" fill="#ff0000"/>
<rect x="454" y="533" width="3" height="22" fill="#ff0000"/>
<rect x="458" y="533" width="3" height="22" fill="#ff0000"/>
<rect x="462" y="533" width="3" height="20" fill="#008000"/>
<rect x="466" y="533" width="3" height="15" fill="#008000"/>
<rect x="470" y="533" width="3" height="9" fill="#008000"/>
<rect x="474" y="533" width="3" height="8" fill="#008000"/>
<rect x="478" y="533" width="3" height="6" fill="#008000"/>
<rect x="482" y="533" width="3" height="6" fill="#008000"/>
<rect x="486" y="533" width="3" height="6" fill="#ff0000"/>
<rect x="490" y="533" width="3" height="4" fill="#008000"/>
<rect x="494" y="533" width="3" height="2" fill="#008000"/>
<rect x="498" y="530" width="3" height="3" fill="#008000"/>
<rect x="502" y="525" width="3" height="8" fill="#008000"/>
<rect x="506" y="521" width="3" height="12" fill="#008000"/>
<rect x="510" y="517" width="3" height="16" fill="#008000"/>
<rect x="514" y="514" width="3" height="19" fill="#008000"/>
<rect x="518" y="517" width="3" height="16" fill="#ff0000"/>
<rect x="522" y="520" width="3" height="13" fill="#ff0000"/>
<rect x="526" y="524" width="3" height="9" fill="#ff0000"/>
<rect x="530" y="530" width="3" height="3" fill="#ff0000"/>
<rect x="534" y="533" width="3" height="3" fill="#ff0000"/>
<rect x="538" y="533" width="3" height="4" fill="#ff0000"/>
<rect x="542" y="533" width="3" height="2" fill="#008000"/>
<rect x="546" y="533" width="3" height="1" fill="#008000"/>
<rect x="550" y="532" width="3" height="1" fill="#008000"/>
<rect x="554" y="526" width="3" height="7" fill="#008000"/>
<rect x="558" y="518" width="3" height="15" fill="#008000"/>
<rect x="562" y="514" width="3" height="19" fill="#008000"/>
<rect x="566" y="511" width="3" height="22" fill="#008000"/>
<rect x="570" y="509" width="3" height="24" fill="#008000"/>
<rect x="574" y="508" width="3" height="25" fill="#008000"/>
<rect x="578" y="511" width="3" height="22" fill="#ff0000"/>
<rect x="582" y="512" width="3" height="21" fill="#ff0000"/>
<rect x="586" y="506" width="3" height="27" fill="#008000"/>
<rect x="590" y="497" width="3" height="36" fill="#008000"/>
<rect x="594" y="486" width="3" height="47" fill="#008000"/>
<rect x="598" y="473" width="3" height="60" fill="#008000"/>
<rect x="602" y="461" width="3" height="72" fill="#008000"/>
<rect x="606" y="457" width="3" height="76" fill="#008000"/>
<rect x="610" y="458" width="3" height="75" fill="#ff0000"/>
<rect x="614" y="465" width="3" height="68" fill="#ff0000"/>
<rect x="618" y="474" width="3" height="59" fill="#ff0000"/>
<rect x="622" y="484" width="3" height="49" fill="#ff0000"/>
<rect x="626" y="492" width="3" height="41" fill="#ff0000"/>
<rect x="630" y="497" width="3" height="36" fill="#ff0000"/>
<rect x="634" y="496" width="3" height="37" fill="#008000"/>
<rect x="638" y="491" width="3" height="42" fill="#008000"/>
<rect x="642" y="485" width="3" height="48" fill="#008000"/>
<rect x="646" y="477" width="3" height="56" fill="#008000"/>
<rect x="650" y="470" width="3" height="63" fill="#008000"/>
<rect x="654" y="467" width="3" height="66" fill="#008000"/>
<rect x="658" y="471" width="3" height="62" fill="#ff0000"/>
<rect x="662" y="475" width="3" height="58" fill="#ff0000"/>
<rect x="666" y="480" width="3" height="53" fill="#ff0000"/>
<rect x="670" y="485" width="3" height="48" fill="#ff0000"/>
<rect x="674" y="491" width="3" height="42" fill="#ff0000"/>
<rect x="678" y="496" width="3" height="37" fill="#ff0000"/>
<rect x="682" y="505" width="3" height="28" fill="#ff0000"/>
<rect x="686" y="519" width="3" height="14" fill="#ff0000"/>
<rect x="690" y="532" width="3" height="1" fill="#ff0000"/>
<rect x="694" y="533" width="3" height="16" fill="#ff0000"/>
<rect x="698" y="533" width="3" height="27" fill="#ff0000"/>
<rect x="702" y="533" width="3" height="32" fill="#ff0000"/>
<rect x="706" y="533" width="3" height="31" fill="#008000"/>
<rect x="710" y="533" width="3" height="35" fill="#ff0000"/>
<rect x="714" y="533" width="3" height="40" fill="#ff0000"/>
<rect x="718" y="533" width="3" height="43" fill="#ff0000"/>
<rect x="722" y="533" width="3" height="45" fill="#ff0000"/>
<rect x="726" y="533" width="3" height="49" fill="#ff0000"/>
<rect x="730" y="533" width="3" height="49" fill="#ff0000"/>
<rect x="734" y="533" width="3" height="49" fill="#008000"/>
<rect x="738" y="533" width="3" height="49" fill="#008000"/>
<rect x="742" y="533" width="3" height="48" fill="#008000"/>
<rect x="746" y="533" width="3" height="47" fill="#008000"/>
<rect x="750" y="533" width="3" height="48" fill="#ff0000"/>
<rect x="754" y="533" width="3" height="49" fill="#ff0000"/>
<rect x="758" y="533" width="3" height="47" fill="#008000"/>
<rect x="762" y="533" width="3" height="44" fill="#008000"/>
<rect x="766" y="533" width="3" height="39" fill="#008000"/>
<rect x="770" y="533" width="3" height="32" fill="#008000"/>
<rect x="774" y="533" width="3" height="24" fill="#008000"/>
<rect x="778" y="533" width="3" height="19" fill="#008000"/>
<rect x="782" y="533" width="3" height="16" fill="#008000"/>
<rect x="786" y="533" width="3" height="12" fill="#008000"/>
<rect x="790" y="533" width="3" height="9" fill="#008000"/>
<rect x="794" y="533" width="3" height="8" fill="#008000"/>
<rect x="798" y="533" width="3" height="7" fill="#008000"/>
<rect x="802" y="533" width="3" height="9" fill="#ff0000"/>
<rect x="806" y="533" width="3" height="13" fill="#ff0000"/>
<rect x="810" y="533" width="3" height="14" fill="#ff0000"/>
<rect x="814" y="533" width="3" height="16" fill="#ff0000"/>
<rect x="818" y="533" width="3" height="17" fill="#ff0000"/>
<rect x="822" y="533" width="3" height="17" fill="#ff0000"/>
<rect x="826" y="533" width="3" height="17" fill="#008000"/>
<rect x="830" y="533" width="3" height="19" fill="#ff0000"/>
<rect x="834" y="533" width="3" height="19" fill="#008000"/>
<rect x="838" y="533" width="3" height="18" fill="#008000"/>
<rect x="842" y="533" width="3" height="19" fill="#ff0000"/>
<rect x="846" y="533" width="3" height="19" fill="#ff0000"/>
<rect x="850" y="533" width="3" height="18" fill="#008000"/>
<rect x="854" y="533" width="3" height="20" fill="#ff0000"/>
<rect x="858" y="533" width="3" height="24" fill="#ff0000"/>
<rect x="862" y="533" width="3" height="24" fill="#ff0000"/>
<rect x="866" y="533" width="3" height="23" fill="#008000"/>
<rect x="870" y="533" width="3" height="19" fill="#008000"/>
<rect x="874" y="533" width="3" height="18" fill="#008000"/>
<rect x="878" y="533" width="3" height="18" fill="#008000"/>
<rect x="882" y="533" width="3" height="17" fill="#008000"/>
<rect x="886" y="533" width="3" height="17" fill="#008000"/>
<rect x="890" y="533" width="3" height="18" fill="#ff0000"/>
<rect x="894" y="533" width="3" height="19" fill="#ff0000"/>
<rect x="898" y="533" width="3" height="20" fill="#ff0000"/>
<rect x="902" y="533" width="3" height="23" fill="#ff0000"/>
<rect x="906" y="533" width="3" height="26" fill="#ff0000"/>
<rect x="910" y="533" width="3" height="29" fill="#ff0000"/>
<rect x="914" y="533" width="3" height="28" fill="#008000"/>
</g>
<g shape-rendering="crispEdges" fill="#c0c0c0">
<rect x="3" y="599" width="2" height="80"/>
<rect x="6" y="605" width="3" height="74"/>
<rect x="10" y="609" width="3" height="70"/>
<rect x="14" y="614" width="3" height="65"/>
<rect x="18" y="618" width="3" height="61"/>
<rect x="22" y="622" width="3" height="57"/>
<rect x="26" y="625" width="3" height="54"/>
<rect x="30" y="629" width="3" height="50"/>
<rect x="34" y="630" width="3" height="49"/>
<rect x="38" y="633" width="3" height="46"/>
<rect x="42" y="636" width="3" height="43"/>
<rect x="46" y="639" width="3" height="40"/>
<rect x="50" y="643" width="3" height="36"/>
<rect x="54" y="646" width="3" height="33"/>
<rect x="58" y="650" width="3" height="29"/>
<rect x="62" y="653" width="3" height="26"/>
<rect x="66" y="658" width="3" height="21"/>
<rect x="70" y="662" width="3" height="17"/>
<rect x="74" y="665" width="3" height="14"/>
<rect x="78" y="669" width="3" height="10"/>
<rect x="82" y="673" width="3" height="6"/>
<rect x="86" y="678" width="3" height="1"/>
<rect x="90" y="679" width="3" height="3"/>
<rect x="94" y="679" width="3" height="7"/>
<rect x="98" y="679" width="3" height="9"/>
<rect x="102" y="679" width="3" height="12"/>
<rect x="106" y="679" width="3" height="11"/>
<rect x="110" y="679" width="3" height="12"/>
<rect x="114" y="679" width="3" height="12"/>
<rect x="118" y="679" width="3" height="12"/>
<rect x="122" y="679" width="3" height="12"/>
<rect x="126" y="679" width="3" height="14"/>
<rect x="130" y="679" width="3" height="15"/>
<rect x="134" y="679" width="3" height="19"/>
<rect x="138" y="679" width="3" height="22"/>
<rect x="142" y="679" width="3" height="24"/>
<rect x="146" y="679" width="3" height="24"/>
<rect x="150" y="679" width="3" height="24"/>
<rect x="154" y="679" width="3" height="24"/>
<rect x="158" y="679" width="3" height="24"/>
<rect x="162" y="679" width="3" height="21"/>
<rect x="166" y="679" width="3" height="20"/>
<rect x="170" y="679" width="3" height="20"/>
<rect x="174" y="679" width="3" height="20"/>
<rect x="178" y="679" width="3" height="20"/>
<rect x="182" y="679" width="3" height="20"/>
<rect x="186" y="679" width="3" height="18"/>
<rect x="190" y="679" width="3" height="20"/>
<rect x="194" y="679" width="3" height="21"/>
<rect x="198" y="679" width="3" height="21"/>
<rect x="202" y="679" width="3" height="23"/>
<rect x="206" y="679" width="3" height="23"/>
<rect x="210" y="679" width="3" height="23"/>
<rect x="214" y="679" width="3" height="24"/>
<rect x="218" y="679" width="3" height="23"/>
<rect x="222" y="679" width="3" height="22"/>
<rect x="226" y="679" width="3" height="22"/>
<rect x="230" y="679" width="3" height="20"/>
<rect x="234" y="679" width="3" height="18"/>
<rect x="238" y="679" width="3" height="15"/>
<rect x="242" y="679" width="3" height="15"/>
<rect x="246" y="679" width="3" height="12"/>
<rect x="250" y="679" width="3" height="7"/>
<rect x="254" y="679" width="3" height="3"/>
<rect x="258" y="677" width="3" height="2"/>
<rect x="262" y="673" width="3" height="6"/>
<rect x="266" y="671" width="3" height="8"/>
<rect x="270" y="668" width="3" height="11"/>
<rect x="274" y="666" width="3" height="13"/>
<rect x="278" y="665" width="3" height="14"/>
<rect x="282" y="663" width="3" height="16"/>
<rect x="286" y="663" width="3" height="16"/>
<rect x="290" y="662" width="3" height="17"/>
<rect x="294" y="664" width="3" height="15"/>
<rect x="298" y="667" width="3" height="12"/>
<rect x="302" y="670" width="3" height="9"/>
<rect x="306" y="673" width="3" height="6"/>
<rect x="310" y="675" width="3" height="4"/>
<rect x="314" y="677" width="3" height="2"/>
<rect x="318" y="678" width="3" height="1"/>
<rect x="322" y="678" width="3" height="1"/>
<rect x="326" y="677" width="3" height="2"/>
<rect x="330" y="678" width="3" height="1"/>
<rect x="334" y="678" width="3" height="1"/>
<rect x="338" y="679" width="3" height="1"/>
<rect x="342" y="679" width="3" height="3"/>
<rect x="346" y="679" width="3" height="5"/>
<rect x="350" y="679" width="3" height="5"/>
<rect x="354" y="679" width="3" height="5"/>
<rect x="358" y="679" width="3" height="5"/>
<rect x="362" y="679" width="3" height="4"/>
<rect x="366" y="679" width="3" height="4"/>
<rect x="370" y="679" width="3" height="7"/>
<rect x="374" y="679" width="3" height="10"/>
<rect x="378" y="679" width="3" height="11"/>
<rect x="382" y="679" width="3" height="13"/>
<rect x="386" y="679" width="3" height="14"/>
<rect x="390" y="679" width="3" height="16"/>
<rect x="394" y="679" width="3" height="17"/>
<rect x="398" y="679" width="3" height="17"/>
<rect x="402" y="679" width="3" height="17"/>
<rect x="406" y="679" width="3" height="17"/>
<rect x="410" y="679" width="3" height="16"/>
<rect x="414" y="679" width="3" height="14"/>
<rect x="418" y="679" width="3" height="13"/>
<rect x="422" y="679" width="3" height="13"/>
<rect x="426" y="679" width="3" height="13"/>
<rect x="430" y="679" width="3" height="13"/>
<rect x="434" y="679" width="3" height="13"/>
<rect x="438" y="679" width="3" height="13"/>
<rect x="442" y="679" width="3" height="14"/>
<rect x="446" y="679" width="3" height="15"/>
<rect x="450" y="679" width="3" height="16"/>
<rect x="454" y="679" width="3" height="16"/>
<rect x="458" y="679" width="3" height="16"/>
<rect x="462" y="679" width="3" height="15"/>
<rect x="466" y="679" width="3" height="13"/>
<rect x="470" y="679" width="3" height="13"/>
<rect x="474" y="679" width="3" height="12"/>
<rect x="478" y="679" width="3" height="12"/>
<rect x="482" y="679" width="3" height="11"/>
<rect x="486" y="679" width="3" height="9"/>
<rect x="490" y="679" width="3" height="9"/>
<rect x="494" y="679" width="3" height="7"/>
<rect x="498" y="679" width="3" height="6"/>
<rect x="502" y="679" width="3" height="4"/>
<rect x="506" y="679" width="3" height="1"/>
<rect x="510" y="676" width="3" height="3"/>
<rect x="514" y="677" width="3" height="2"/>
<rect x="518" y="677" width="3" height="2"/>
<rect x="522" y="677" width="3" height="2"/>
<rect x="526" y="677" width="3" height="2"/>
<rect x="530" y="677" width="3" height="2"/>
<rect x="534" y="678" width="3" height="1"/>
<rect x="542" y="677" width="3" height="2"/>
<rect x="546" y="676" width="3" height="3"/>
<rect x="550" y="675" width="3" height="4"/>
<rect x="554" y="674" width="3" height="5"/>
<rect x="558" y="672" width="3" height="7"/>
<rect x="562" y="671" width="3" height="8"/>
<rect x="566" y="670" width="3" height="9"/>
<rect x="570" y="670" width="3" height="9"/>
<rect x="574" y="669" width="3" height="10"/>
<rect x="578" y="669" width="3" height="10"/>
<rect x="582" y="666" width="3" height="13"/>
<rect x="586" y="663" width="3" height="16"/>
<rect x="590" y="658" width="3" height="21"/>
<rect x="594" y="654" width="3" height="25"/>
<rect x="598" y="650" width="3" height="29"/>
<rect x="602" y="646" width="3" height="33"/>
<rect x="606" y="643" width="3" height="36"/>
<rect x="610" y="642" width="3" height="37"/>
<rect x="614" y="643" width="3" height="36"/>
<rect x="618" y="644" width="3" height="35"/>
<rect x="622" y="645" width="3" height="34"/>
<rect x="626" y="646" width="3" height="33"/>
<rect x="630" y="647" width="3" height="32"/>
<rect x="634" y="646" width="3" height="33"/>
<rect x="638" y="644" width="3" height="35"/>
<rect x="642" y="644" width="3" height="35"/>
<rect x="646" y="642" width="3" height="37"/>
<rect x="650" y="641" width="3" height="38"/>
<rect x="654" y="641" width="3" height="38"/>
<rect x="658" y="642" width="3" height="37"/>
<rect x="662" y="644" width="3" height="35"/>
<rect x="666" y="645" width="3" height="34"/>
<rect x="670" y="646" width="3" height="33"/>
<rect x="674" y="648" width="3" height="31"/>
<rect x="678" y="652" width="3" height="27"/>
<rect x="682" y="659" width="3" height="20"/>
<rect x="686" y="665" width="3" height="14"/>
<rect x="690" y="670" width="3" height="9"/>
<rect x="694" y="675" width="3" height="4"/>
<rect x="698" y="679" width="3" height="3"/>
<rect x="702" y="679" width="3" height="7"/>
<rect x="706" y="679" width="3" height="11"/>
<rect x="710" y="679" width="3" height="16"/>
<rect x="714" y="679" width="3" height="20"/>
<rect x="718" y="679" width="3" height="23"/>
<rect x="722" y="679" width="3" height="26"/>
<rect x="726" y="679" width="3" height="29"/>
<rect x="730" y="679" width="3" height="31"/>
<rect x="734" y="679" width="3" height="33"/>
<rect x="738" y="679" width="3" height="36"/>
<rect x="742" y="679" width="3" height="37"/>
<rect x="746" y="679" width="3" height="39"/>
<rect x="750" y="679" width="3" height="41"/>
<rect x="754" y="679" width="3" height="41"/>
<rect x="758" y="679" width="3" height="41"/>
<rect x="762" y="679" width="3" height="40"/>
<rect x="766" y="679" width="3" height="38"/>
<rect x="770" y="679" width="3" height="36"/>
<rect x="774" y="679" width="3" height="33"/>
<rect x="778" y="679" width="3" height="31"/>
<rect x="782" y="679" width="3" height="29"/>
<rect x="786" y="679" width="3" height="25"/>
<rect x="790" y="679" width="3" height="23"/>
<rect x="794" y="679" width="3" height="23"/>
<rect x="798" y="679" width="3" height="22"/>
<rect x="802" y="679" width="3" height="21"/>
<rect x="806" y="679" width="3" height="21"/>
<rect x="810" y="679" width="3" height="21"/>
<rect x="814" y="679" width="3" height="21"/>
<rect x="818" y="679" width="3" height="20"/>
<rect x="822" y="679" width="3" height="20"/>
<rect x="826" y="679" width="3" height="21"/>
<rect x="830" y="679" width="3" height="22"/>
<rect x="834" y="679" width="3" height="22"/>
<rect x="838" y="679" width="3" height="21"/>
<rect x="842" y="679" width="3" height="21"/>
<rect x="846" y="679" width="3" height="21"/>
<rect x="850" y="679" width="3" height="22"/>
<rect x="854" y="679" width="3" height="22"/>
<rect x="858" y="679" width="3" height="22"/>
<rect x="862" y="679" width="3" height="21"/>
<rect x="866" y="679" width="3" height="21"/>
<rect x="870" y="679" width="3" height="19"/>
<rect x="874" y="679" width="3" height="20"/>
<rect x="878" y="679" width="3" height="19"/>
<rect x="882" y="679" width="3" height="18"/>
<rect x="886" y="679" width="3" height="17"/>
<rect x="890" y="679" width="3" height="16"/>
<rect x="894" y="679" width="3" height="17"/>
<rect x="898" y="679" width="3" height="17"/>
<rect x="902" y="679" width="3" height="17"/>
<rect x="906" y="679" width="3" height="17"/>
<rect x="910" y="679" width="3" height="17"/>
<rect x="914" y="679" width="3" height="16"/>
</g>
<g clip-path="url(#mainclip)">
<defs><clipPath id="mainclip"><rect x="3" y="3" width="1451" height="444"/></clipPath></defs>
<line x1="2" y1="147" x2="1040" y2="313" stroke="#0000ff" stroke-width="2" shape-rendering="crispEdges"/>
<line x1="463" y1="226" x2="43" y2="468.34" stroke="#0000ff" stroke-width="2" shape-rendering="crispEdges"/>
</g>
<g shape-rendering="crispEdges">
<rect x="903" y="128" width="24" height="1" fill="#000"/>
<rect x="903" y="176" width="24" height="1" fill="#000"/>
<rect x="903" y="207" width="24" height="1" fill="#000"/>
<rect x="903" y="255" width="24" height="1" fill="#000"/>
<rect x="903" y="303" width="24" height="1" fill="#000"/>
<rect x="903" y="333" width="24" height="1" fill="#000"/>
<rect x="903" y="382" width="24" height="1" fill="#000"/>
<rect x="903" y="430" width="24" height="1" fill="#000"/>
</g>
<text transform="translate(959,137) scale(0.94,1)" font-size="9.9" text-rendering="geometricPrecision" fill="#000">R5 49.67</text>
<text transform="translate(959,185) scale(0.94,1)" font-size="9.9" text-rendering="geometricPrecision" fill="#000">R4 48.41</text>
<text transform="translate(959,216) scale(0.94,1)" font-size="9.9" text-rendering="geometricPrecision" fill="#000">R3 47.63</text>
<text transform="translate(959,264) scale(0.94,1)" font-size="9.9" text-rendering="geometricPrecision" fill="#000">R2 46.38</text>
<text transform="translate(959,312) scale(0.94,1)" font-size="9.9" text-rendering="geometricPrecision" fill="#000">R1 45.12</text>
<text transform="translate(959,342) scale(0.94,1)" font-size="9.9" text-rendering="geometricPrecision" fill="#000">S1 44.34</text>
<text transform="translate(959,391) scale(0.94,1)" font-size="9.9" text-rendering="geometricPrecision" fill="#000">S2 43.08</text>
<text transform="translate(959,439) scale(0.94,1)" font-size="9.9" text-rendering="geometricPrecision" fill="#000">S3 41.83</text>
<g fill="none" stroke="#000" stroke-width="1" shape-rendering="crispEdges">
<rect x="2.5" y="2.5" width="1452" height="445"/>
<rect x="2.5" y="449.5" width="1452" height="140"/>
<rect x="2.5" y="591.5" width="1452" height="136"/>
</g>
<g shape-rendering="crispEdges" fill="#000">
<rect x="1455" y="11" width="2" height="1"/>
<rect x="1455" y="44" width="2" height="1"/>
<rect x="1455" y="77" width="2" height="1"/>
<rect x="1455" y="111" width="2" height="1"/>
<rect x="1455" y="144" width="2" height="1"/>
<rect x="1455" y="177" width="2" height="1"/>
<rect x="1455" y="210" width="2" height="1"/>
<rect x="1455" y="244" width="2" height="1"/>
<rect x="1455" y="277" width="2" height="1"/>
<rect x="1455" y="310" width="2" height="1"/>
<rect x="1455" y="344" width="2" height="1"/>
<rect x="1455" y="377" width="2" height="1"/>
<rect x="1455" y="410" width="2" height="1"/>
<rect x="1455" y="443" width="2" height="1"/>
</g>
<text transform="translate(1460,14) scale(0.94,1)" font-size="9.9" text-rendering="geometricPrecision" fill="#000">52.70</text>
<text transform="translate(1460,47) scale(0.94,1)" font-size="9.9" text-rendering="geometricPrecision" fill="#000">51.85</text>
<text transform="translate(1460,80) scale(0.94,1)" font-size="9.9" text-rendering="geometricPrecision" fill="#000">51.00</text>
<text transform="translate(1460,114) scale(0.94,1)" font-size="9.9" text-rendering="geometricPrecision" fill="#000">50.10</text>
<text transform="translate(1460,147) scale(0.94,1)" font-size="9.9" text-rendering="geometricPrecision" fill="#000">49.25</text>
<text transform="translate(1460,180) scale(0.94,1)" font-size="9.9" text-rendering="geometricPrecision" fill="#000">48.40</text>
<text transform="translate(1460,213) scale(0.94,1)" font-size="9.9" text-rendering="geometricPrecision" fill="#000">47.55</text>
<text transform="translate(1460,247) scale(0.94,1)" font-size="9.9" text-rendering="geometricPrecision" fill="#000">46.65</text>
<text transform="translate(1460,280) scale(0.94,1)" font-size="9.9" text-rendering="geometricPrecision" fill="#000">45.80</text>
<text transform="translate(1460,313) scale(0.94,1)" font-size="9.9" text-rendering="geometricPrecision" fill="#000">44.95</text>
<text transform="translate(1460,347) scale(0.94,1)" font-size="9.9" text-rendering="geometricPrecision" fill="#000">44.05</text>
<text transform="translate(1460,380) scale(0.94,1)" font-size="9.9" text-rendering="geometricPrecision" fill="#000">43.20</text>
<text transform="translate(1460,413) scale(0.94,1)" font-size="9.9" text-rendering="geometricPrecision" fill="#000">42.35</text>
<text transform="translate(1460,446) scale(0.94,1)" font-size="9.9" text-rendering="geometricPrecision" fill="#000">41.50</text>
<rect x="1456" y="315" width="31" height="11" fill="#000"/>
<text transform="translate(1460,324) scale(0.94,1)" font-size="9.9" text-rendering="geometricPrecision" fill="#fff">44.67</text>
<text transform="translate(7.6,462) scale(0.94,1)" font-size="9.9" text-rendering="geometricPrecision" fill="#000" letter-spacing="0.1">AO -1.020</text>
<text transform="translate(7,604) scale(0.94,1)" font-size="9.9" text-rendering="geometricPrecision" fill="#000">OsMA(36,72,27) -0.2009</text>
<text transform="translate(1458,460) scale(0.94,1)" font-size="9.9" text-rendering="geometricPrecision" fill="#000">3.136</text>
<text transform="translate(1458,536) scale(0.94,1)" font-size="9.9" text-rendering="geometricPrecision" fill="#000">0.00</text>
<text transform="translate(1458,586) scale(0.94,1)" font-size="9.9" text-rendering="geometricPrecision" fill="#000">-2.084</text>
<text transform="translate(1458,602) scale(0.94,1)" font-size="9.9" text-rendering="geometricPrecision" fill="#000">1.1131</text>
<text transform="translate(1458,682) scale(0.94,1)" font-size="9.9" text-rendering="geometricPrecision" fill="#000">0.00</text>
<text transform="translate(1458,724) scale(0.94,1)" font-size="9.9" text-rendering="geometricPrecision" fill="#000">-0.6132</text>
<g shape-rendering="crispEdges" fill="#000">
<rect x="1455" y="451" width="2" height="1"/>
<rect x="1455" y="533" width="2" height="1"/>
<rect x="1455" y="588" width="2" height="1"/>
<rect x="1455" y="593" width="2" height="1"/>
<rect x="1455" y="679" width="2" height="1"/>
<rect x="1455" y="726" width="2" height="1"/>
</g>
<path d="M6 9h7l-3.5 4z" fill="#000"/>
<text transform="translate(19,14) scale(0.94,1)" font-size="9.9" text-rendering="geometricPrecision" fill="#000">#CL,H4</text>
<text transform="translate(57,14) scale(0.94,1)" font-size="9.9" text-rendering="geometricPrecision" fill="#000">44.73 44.73 44.67 44.67</text>
<g shape-rendering="crispEdges" fill="#000">
<rect x="3" y="728" width="1" height="3"/>
<rect x="67" y="728" width="1" height="3"/>
<rect x="131" y="728" width="1" height="3"/>
<rect x="195" y="728" width="1" height="3"/>
<rect x="259" y="728" width="1" height="3"/>
<rect x="323" y="728" width="1" height="3"/>
<rect x="387" y="728" width="1" height="3"/>
<rect x="451" y="728" width="1" height="3"/>
<rect x="515" y="728" width="1" height="3"/>
<rect x="579" y="728" width="1" height="3"/>
<rect x="643" y="728" width="1" height="3"/>
<rect x="707" y="728" width="1" height="3"/>
<rect x="771" y="728" width="1" height="3"/>
<rect x="835" y="728" width="1" height="3"/>
<rect x="899" y="728" width="1" height="3"/>
</g>
<text transform="translate(2,740) scale(0.94,1)" font-size="9.9" text-rendering="geometricPrecision" fill="#000">2 Sep 2015</text>
<text transform="translate(66,740) scale(0.94,1)" font-size="9.9" text-rendering="geometricPrecision" fill="#000">4 Sep 21:00</text>
<text transform="translate(130,740) scale(0.94,1)" font-size="9.9" text-rendering="geometricPrecision" fill="#000">9 Sep 17:00</text>
<text transform="translate(194,740) scale(0.94,1)" font-size="9.9" text-rendering="geometricPrecision" fill="#000">14 Sep 09:00</text>
<text transform="translate(258,740) scale(0.94,1)" font-size="9.9" text-rendering="geometricPrecision" fill="#000">17 Sep 01:00</text>
<text transform="translate(322,740) scale(0.94,1)" font-size="9.9" text-rendering="geometricPrecision" fill="#000">21 Sep 17:00</text>
<text transform="translate(386,740) scale(0.94,1)" font-size="9.9" text-rendering="geometricPrecision" fill="#000">24 Sep 09:00</text>
<text transform="translate(450,740) scale(0.94,1)" font-size="9.9" text-rendering="geometricPrecision" fill="#000">29 Sep 01:00</text>
<text transform="translate(514,740) scale(0.94,1)" font-size="9.9" text-rendering="geometricPrecision" fill="#000">1 Oct 17:00</text>
<text transform="translate(578,740) scale(0.94,1)" font-size="9.9" text-rendering="geometricPrecision" fill="#000">6 Oct 09:00</text>
<text transform="translate(642,740) scale(0.94,1)" font-size="9.9" text-rendering="geometricPrecision" fill="#000">9 Oct 01:00</text>
<text transform="translate(706,740) scale(0.94,1)" font-size="9.9" text-rendering="geometricPrecision" fill="#000">13 Oct 17:00</text>
<text transform="translate(770,740) scale(0.94,1)" font-size="9.9" text-rendering="geometricPrecision" fill="#000">16 Oct 09:00</text>
<text transform="translate(834,740) scale(0.94,1)" font-size="9.9" text-rendering="geometricPrecision" fill="#000">21 Oct 01:00</text>
<text transform="translate(898,740) scale(0.94,1)" font-size="9.9" text-rendering="geometricPrecision" fill="#000">23 Oct 17:00</text>
<rect x="244" y="696" width="2" height="37" fill="#000" fill-opacity="0.10"/>
<rect x="19" y="732" width="225" height="1" fill="#000" fill-opacity="0.10"/>
<defs><linearGradient id="wg" x1="0" y1="0" x2="0" y2="1"><stop offset="0" stop-color="rgb(219,59,59)"/><stop offset="1" stop-color="rgb(206,46,46)"/></linearGradient></defs>
<rect x="17" y="694" width="227" height="38" fill="url(#wg)" fill-opacity="0.75"/>
<rect x="17.5" y="694.5" width="226" height="37" fill="none" stroke="rgb(150,20,20)" stroke-opacity="0.18"/>
<rect x="18.5" y="695.5" width="224" height="35" fill="none" stroke="#fff" stroke-opacity="0.15"/>
<g fill="#7a1010" fill-opacity="0.35" transform="translate(1,1)">
<text x="28.4" y="719" font-size="22" font-weight="normal">[</text>
<text x="45" y="720" font-size="22" letter-spacing="0">www.instaforex</text>
<text x="191.3" y="720" font-size="14.8">.com</text>
<text x="226.4" y="719.7" font-size="15.3">]</text>
</g>
<g fill="#fff">
<text x="28.4" y="719" font-size="22" font-weight="normal">[</text>
<text x="45" y="720" font-size="22" letter-spacing="0">www.instaforex</text>
<text x="191.3" y="720" font-size="14.8">.com</text>
<text x="226.4" y="719.7" font-size="15.3">]</text>
</g>
</svg></body></html>
